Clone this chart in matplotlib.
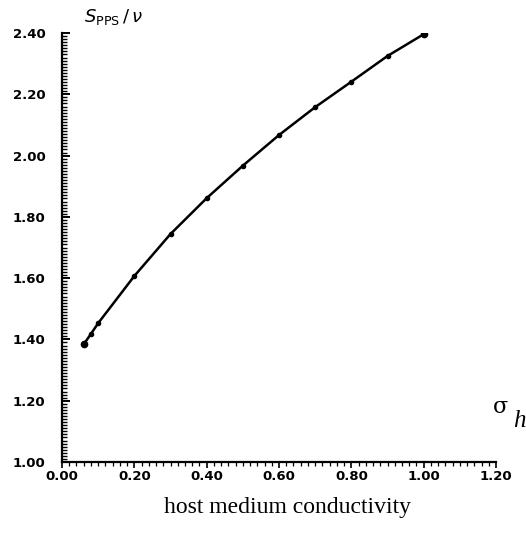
import matplotlib
matplotlib.use("Agg")
import matplotlib.pyplot as plt
from matplotlib.ticker import MultipleLocator, FormatStrFormatter

x_sigma = [0.06, 0.08, 0.10, 0.20, 0.30, 0.40, 0.50, 0.60, 0.70, 0.80, 0.90, 1.00]
y_ratio = [1.384, 1.418, 1.453, 1.607, 1.744, 1.861, 1.967, 2.067, 2.158, 2.241, 2.325, 2.396]
x_ticks = [0.0, 0.2, 0.4, 0.6, 0.8, 1.0, 1.2]
y_ticks = [1.0, 1.2, 1.4, 1.6, 1.8, 2.0, 2.2, 2.4]

fig = plt.figure(figsize=(5.26, 5.35), dpi=100)
W, H = 526, 535
ax = fig.add_axes([62 / W, 1 - 462 / H, (496 - 62) / W, (462 - 33) / H])

ax.plot(x_sigma, y_ratio, color="black", lw=1.8, marker="o", ms=3.0, zorder=3)
ax.plot([x_sigma[0], x_sigma[-1]], [y_ratio[0], y_ratio[-1]], ls="none",
        marker="o", ms=4.5, color="black", zorder=4)

ax.set_xlim(0, 1.2)
ax.set_ylim(1.0, 2.4)
ax.set_xticks(x_ticks)
ax.set_yticks(y_ticks)
ax.xaxis.set_major_formatter(FormatStrFormatter("%.2f"))
ax.yaxis.set_major_formatter(FormatStrFormatter("%.2f"))
ax.xaxis.set_minor_locator(MultipleLocator(0.02))
ax.yaxis.set_minor_locator(MultipleLocator(0.01))

for s in ["top", "right"]:
    ax.spines[s].set_visible(False)
for s in ["left", "bottom"]:
    ax.spines[s].set_linewidth(1.6)

ax.tick_params(axis="y", which="major", direction="in", length=6, width=1.4,
               labelsize=9.5, pad=12)
ax.tick_params(axis="y", which="minor", direction="in", length=3.5, width=1.0)
ax.tick_params(axis="x", which="major", direction="out", length=4, width=1.2,
               labelsize=9.5, pad=2)
ax.tick_params(axis="x", which="minor", direction="out", length=3, width=0.9)
for lbl in ax.get_xticklabels() + ax.get_yticklabels():
    lbl.set_fontweight("bold")

fig.text(84 / W, 1 - 17 / H, r"$\mathit{S}_{\mathrm{PPS}}\,/\,\nu$", fontsize=13,
         ha="left", va="center")
fig.text(501 / W, 1 - 407 / H, "σ", fontsize=16, ha="center",
         va="center", family="DejaVu Serif")
fig.text(519 / W, 1 - 421 / H, "h", fontsize=18, ha="center", style="italic",
         va="center", family="Liberation Serif")
fig.text(287 / W, 1 - 507 / H, "host medium conductivity", fontsize=17,
         ha="center", va="center", family="Liberation Serif")

fig.savefig("out.png", dpi=100)
